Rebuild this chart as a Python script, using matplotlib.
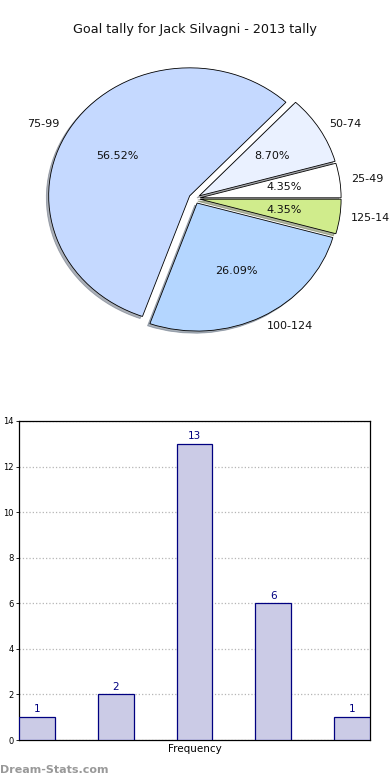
import numpy as np
import matplotlib
matplotlib.use("Agg")
import matplotlib.pyplot as plt

# data
ranges = ['25-49', '50-74', '75-99', '100-124', '125-149']
counts = [1, 2, 13, 6, 1]
pie_colors = ['#ffffff', '#eaf1ff', '#c5d9ff', '#b4d6ff', '#d0ec8c']
y_ticks = [0, 2, 4, 6, 8, 10, 12, 14]

fig = plt.figure(figsize=(3.9, 7.8), dpi=100)

# pie (squashed a bit, not equal aspect)
rx, ry = 141, 128
cx, cy = 194.5, 198.5
ax1 = fig.add_axes([(cx - 1.25 * rx) / 390, 1 - (cy + 1.25 * ry) / 780,
                    2.5 * rx / 390, 2.5 * ry / 780])
ax1.pie(counts, labels=ranges, colors=pie_colors, explode=[0.04] * 5,
        autopct='%.2f%%', startangle=0,
        shadow={'ox': -0.012, 'oy': -0.012, 'shade': 0.55},
        pctdistance=0.6, labeldistance=1.08,
        textprops={'fontsize': 8, 'color': '#111111'},
        wedgeprops={'edgecolor': 'black', 'linewidth': 0.6})
ax1.set_aspect('auto')
fig.text(0.5, 1 - 30 / 780, 'Goal tally for Jack Silvagni - 2013 tally',
         ha='center', va='center', fontsize=9.2, color='#111111')

# bars
ax2 = fig.add_axes([19 / 390, 40 / 780, 351 / 390, 319 / 780])
x = np.arange(len(counts))
w = 0.455
ax2.bar(x, counts, width=w, color='#cbcbe6', edgecolor='#000080',
        linewidth=0.9, zorder=3)
for xi, c in zip(x, counts):
    ax2.text(xi, c + 0.12, str(c), ha='center', va='bottom', fontsize=7.5,
             color='#000080', zorder=4)
ax2.set_xlim(-w / 2, x[-1] + w / 2)
ax2.set_ylim(0, 14)
ax2.set_yticks(y_ticks)
ax2.set_xticks([])
ax2.tick_params(axis='y', labelsize=6, length=2, width=0.6, pad=2)
ax2.grid(axis='y', linestyle=':', color='#b5b5b5', linewidth=0.9, zorder=0)
for s in ax2.spines.values():
    s.set_linewidth(0.9)
ax2.set_xlabel('Frequency', fontsize=7.5, labelpad=3)
ax2.set_ylabel('Goal Tally', fontsize=8)
ax2.yaxis.set_label_coords(-0.062, 0.5)

fig.text(0.0, 1 - 770 / 780, 'Dream-Stats.com', ha='left', va='center',
         fontsize=8, color='#999999', fontweight='bold')

fig.savefig('out.png', dpi=100)
